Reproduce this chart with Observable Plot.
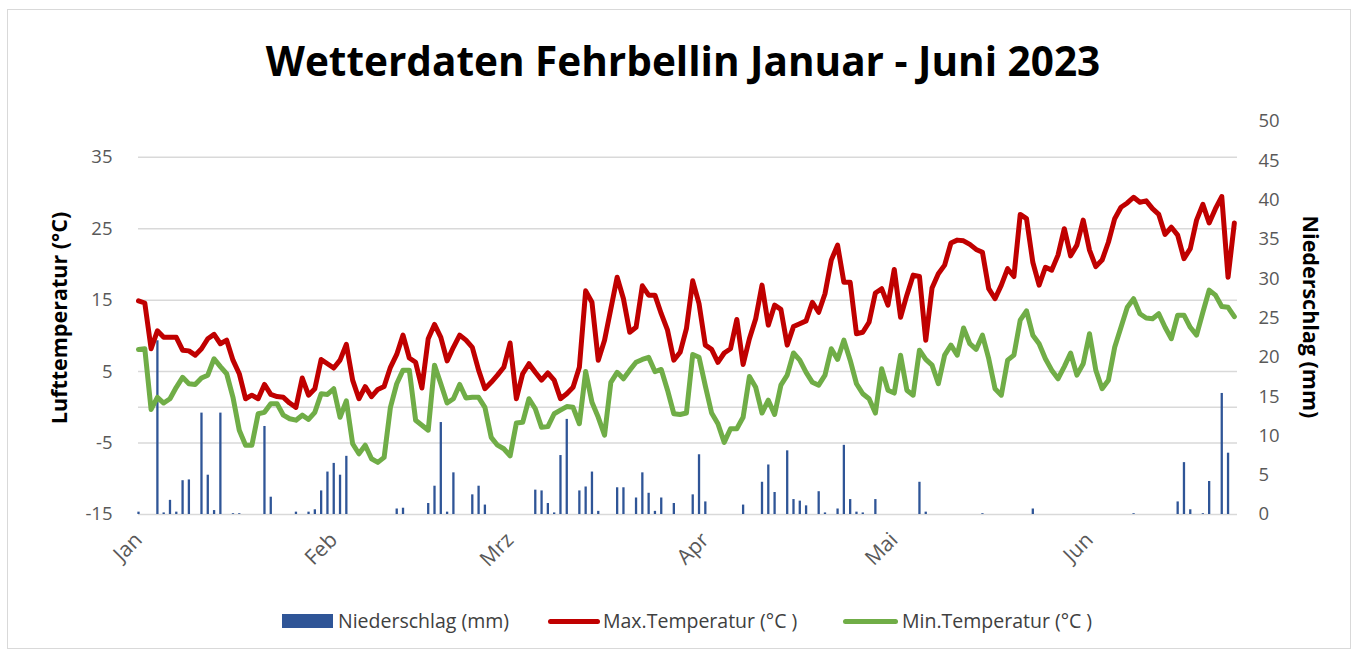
<!DOCTYPE html>
<html>
<head>
<meta charset="utf-8">
<script src="https://cdn.jsdelivr.net/npm/d3@7"></script>
<script src="https://cdn.jsdelivr.net/npm/@observablehq/plot@0.6"></script>
<style>
  html, body { margin: 0; padding: 0; background: #fff; }
  #wrap { position: relative; width: 1357px; height: 652px; overflow: hidden; font-family: "Open Sans", sans-serif; }
  #frame { position: absolute; left: 7px; top: 9px; width: 1344px; height: 640px; border: 1.5px solid #d9d9d9; box-sizing: border-box; }
  #chart { position: absolute; left: 0; top: 0; }
  #title { position: absolute; left: 0; top: 33px; width: 1366px; text-align: center; font-weight: 700; font-size: 40.5px; color: #000; white-space: nowrap; }
  .ytitle { position: absolute; font-weight: 700; font-size: 21.5px; color: #000; white-space: nowrap; transform-origin: center center; }
  #ytl { left: 58px; top: 318px; transform: translate(-50%, -50%) rotate(-90deg); }
  #ytr { left: 1311px; top: 317px; transform: translate(-50%, -50%) rotate(90deg); }
  .lg { position: absolute; top: 607px; font-size: 19.5px; color: #404040; white-space: nowrap; line-height: 28px; }
  .key { position: absolute; }
</style>
</head>
<body>
<div id="wrap">
  <div id="frame"></div>
  <div id="chart"></div>
  <div id="title">Wetterdaten Fehrbellin Januar - Juni 2023</div>
  <div class="ytitle" id="ytl">Lufttemperatur (°C)</div>
  <div class="ytitle" id="ytr">Niederschlag (mm)</div>
  <div class="key" style="left:282px;top:614px;width:51px;height:14px;background:#2F5597"></div>
  <div class="lg" style="left:338px">Niederschlag (mm)</div>
  <div class="key" style="left:548px;top:619px;width:52px;height:5px;border-radius:3px;background:#C00000"></div>
  <div class="lg" style="left:603px">Max.Temperatur (°C )</div>
  <div class="key" style="left:843px;top:619px;width:55px;height:5px;border-radius:3px;background:#70AD47"></div>
  <div class="lg" style="left:902px">Min.Temperatur (°C )</div>
</div>
<script>
// ---- Data (daily values, 1 Jan 2023 - 24 Jun 2023) ----
const startDay = "2023-01-01";

const maxTemp = [
  14.9, 14.6, 8.2, 10.7, 9.8, 9.8, 9.8, 8.0, 7.9, 7.3, 8.2, 9.6, 10.2, 8.9, 9.4, 6.6, 4.7, 1.2, 1.7, 1.2, 3.2, 1.8, 1.5, 1.4, 0.6, 0.0, 4.1, 1.7, 2.6, 6.7, 6.1,
  5.5, 6.6, 8.8, 3.8, 1.2, 2.9, 1.5, 2.5, 2.9, 5.6, 7.4, 10.1, 6.9, 6.3, 2.7, 9.6, 11.6, 9.8, 6.5, 8.4, 10.1, 9.4, 8.4, 5.2, 2.6, 3.5, 4.5, 5.6, 9.0, 1.2,
  4.7, 6.1, 4.9, 3.8, 4.8, 3.8, 1.2, 1.9, 2.8, 5.6, 16.3, 14.7, 6.6, 9.4, 13.8, 18.2, 15.2, 10.5, 11.2, 17.0, 15.7, 15.7, 13.1, 10.8, 6.6, 7.7, 11.0, 17.7, 14.5, 8.7, 8.1,
  6.3, 7.6, 8.2, 12.3, 6.0, 9.6, 12.4, 17.1, 11.5, 14.3, 13.7, 8.7, 11.3, 11.7, 12.1, 14.7, 13.3, 15.9, 20.6, 22.7, 17.5, 17.5, 10.3, 10.5, 11.9, 16.0, 16.6, 14.3, 19.3, 12.6,
  15.7, 18.5, 18.3, 9.4, 16.7, 18.7, 19.9, 23.0, 23.4, 23.3, 22.8, 22.1, 21.7, 16.6, 15.2, 17.1, 19.4, 18.3, 27.0, 26.4, 20.3, 17.1, 19.6, 19.2, 21.3, 25.0, 21.2,
  22.7, 26.2, 22.0, 19.7, 20.6, 23.1, 26.4, 28.0, 28.6, 29.4, 28.7, 28.9, 27.8, 27.0, 24.2, 25.2, 24.1, 20.8, 22.2, 26.2, 28.4, 25.8, 27.8, 29.5, 18.2, 25.8
];

const minTemp = [
  8.1, 8.2, -0.3, 1.4, 0.6, 1.2, 2.8, 4.2, 3.3, 3.2, 4.1, 4.5, 6.8, 5.7, 4.7, 1.4, -3.2, -5.3, -5.3, -0.9, -0.7, 0.5, 0.5, -1.1, -1.6, -1.8, -1.1, -1.7, -0.7, 1.9, 1.8,
  2.6, -1.4, 0.9, -5.1, -6.5, -5.3, -7.2, -7.7, -7.0, 0.0, 3.3, 5.2, 5.2, -1.8, -2.5, -3.2, 5.9, 3.3, 0.6, 1.2, 3.2, 1.3, 1.4, 1.4, 0.0, -4.2, -5.3, -5.8, -6.8, -2.2,
  -2.1, 1.2, -0.2, -2.8, -2.7, -0.9, -0.4, 0.1, 0.0, -2.3, 5.0, 0.7, -1.4, -3.9, 3.5, 4.9, 4.0, 5.2, 6.3, 6.7, 7.0, 5.0, 5.3, 2.4, -0.9, -1.0, -0.8, 7.4, 7.0, 3.0, -0.8,
  -2.3, -4.9, -3.0, -3.0, -1.4, 4.3, 2.8, -0.8, 1.0, -1.0, 3.1, 4.5, 7.6, 6.6, 4.9, 3.5, 3.1, 4.5, 8.2, 6.7, 9.4, 6.6, 3.3, 1.9, 1.2, -0.8, 5.4, 2.4, 2.0, 7.3,
  2.4, 1.7, 8.0, 6.7, 5.9, 3.3, 7.3, 8.7, 7.3, 11.1, 8.9, 8.1, 10.1, 6.8, 2.6, 1.7, 6.6, 7.3, 12.2, 13.5, 10.1, 8.9, 6.8, 5.2, 4.0, 5.7, 7.6,
  4.5, 6.1, 10.3, 5.2, 2.6, 3.8, 8.4, 11.2, 14.0, 15.2, 13.1, 12.5, 12.4, 13.1, 11.2, 9.6, 12.9, 12.9, 11.2, 10.1, 13.3, 16.4, 15.7, 14.1, 14.0, 12.7
];

const precip = [
  0.3, 0, 0, 22.1, 0.2, 1.8, 0.3, 4.3, 4.4, 0,
  12.9, 5.0, 0.5, 12.9, 0, 0.1, 0.1, 0, 0, 0,
  11.2, 2.2, 0, 0, 0, 0.3, 0, 0.3, 0.6, 3.0,
  5.4, 6.5, 5.0, 7.4, 0, 0, 0, 0, 0, 0,
  0, 0.7, 0.8, 0, 0, 0, 1.4, 3.6, 11.7, 0.3,
  5.3, 0, 0, 2.5, 3.6, 1.2, 0, 0, 0, 0,
  0, 0, 0, 3.1, 3.0, 1.4, 0.2, 7.5, 12.1, 0,
  3.0, 3.5, 5.4, 0.4, 0, 0, 3.4, 3.4, 0, 2.1,
  5.3, 2.7, 0.4, 2.1, 0, 1.4, 0, 0, 2.5, 7.6,
  1.6, 0, 0, 0, 0, 0, 1.2, 0, 0, 4.1,
  6.3, 2.8, 0, 8.1, 1.9, 1.7, 1.1, 0, 2.9, 0.2,
  0, 0.7, 8.8, 1.9, 0.3, 0.2, 0, 1.9, 0, 0,
  0, 0, 0, 0, 4.1, 0.3, 0, 0, 0, 0,
  0, 0, 0, 0, 0.1, 0, 0, 0, 0, 0,
  0, 0, 0.7, 0, 0, 0, 0, 0, 0, 0,
  0, 0, 0, 0, 0, 0, 0, 0, 0.1, 0,
  0, 0, 0, 0, 0, 1.6, 6.6, 0.6, 0, 0.1,
  4.2, 0, 15.4, 7.8, 0
];

const tempTicks = [-15, -5, 5, 15, 25, 35];
const rainTicks = [0, 5, 10, 15, 20, 25, 30, 35, 40, 45, 50];
const monthStarts = ["2023-01-01", "2023-02-01", "2023-03-01", "2023-04-01", "2023-05-01", "2023-06-01"];
const monthLabels = ["Jan", "Feb", "Mrz", "Apr", "Mai", "Jun"];

// ---- Build table ----
const tempDomain = [-15, 40];
const rainDomain = [0, 50];
const rainToTemp = p => tempDomain[0] + (p - rainDomain[0]) * (tempDomain[1] - tempDomain[0]) / (rainDomain[1] - rainDomain[0]);
const tempToRain = t => (t - tempDomain[0]) * (rainDomain[1] - rainDomain[0]) / (tempDomain[1] - tempDomain[0]) + rainDomain[0];
const t0 = new Date(startDay + "T00:00:00Z");
const rows = maxTemp.map((v, i) => ({
  date: d3.utcDay.offset(t0, i),
  max: v,
  min: minTemp[i],
  rain: precip[i]
}));
const tickDates = monthStarts.map(s => new Date(s + "T00:00:00Z"));
const xEnd = d3.utcHour.offset(rows[rows.length - 1].date, 12);

const fontFam = "'Open Sans', sans-serif";

const chart = Plot.plot({
  width: 1357,
  height: 652,
  marginTop: 121,
  marginBottom: 138,
  marginLeft: 138,
  marginRight: 120,
  x: { type: "utc", domain: [t0, xEnd] },
  y: { domain: tempDomain },
  style: { fontFamily: fontFam, fontSize: "18px", color: "#595959", background: "transparent", overflow: "visible" },
  marks: [
    Plot.ruleY(tempTicks, { stroke: "#d9d9d9", strokeWidth: 1.5 }),
    Plot.ruleY([0], { stroke: "#d9d9d9", strokeWidth: 1.5 }),
    Plot.ruleX(rows.filter(d => d.rain > 0), {
      x: "date", y1: tempDomain[0], y2: d => rainToTemp(d.rain),
      stroke: "#2F5597", strokeWidth: 2.3
    }),
    Plot.line(rows, { x: "date", y: "max", stroke: "#C00000", strokeWidth: 5, strokeLinejoin: "round", strokeLinecap: "round" }),
    Plot.line(rows, { x: "date", y: "min", stroke: "#70AD47", strokeWidth: 5, strokeLinejoin: "round", strokeLinecap: "round" }),
    Plot.axisY(tempTicks, { anchor: "left", tickSize: 0, tickPadding: 26, label: null, fontSize: 18.5, tickFormat: d => String(d) }),
    Plot.axisY(rainTicks.map(rainToTemp), {
      anchor: "right", tickSize: 0, tickPadding: 21, label: null, fontSize: 18.5,
      tickFormat: t => String(Math.round(tempToRain(t)))
    }),
    Plot.axisX(tickDates, {
      anchor: "bottom", tickSize: 0, tickPadding: 22, tickRotate: -45, label: null, fontSize: 21,
      tickFormat: d => monthLabels[d.getUTCMonth()]
    })
  ]
});
document.getElementById("chart").appendChild(chart);
</script>
</body>
</html>
